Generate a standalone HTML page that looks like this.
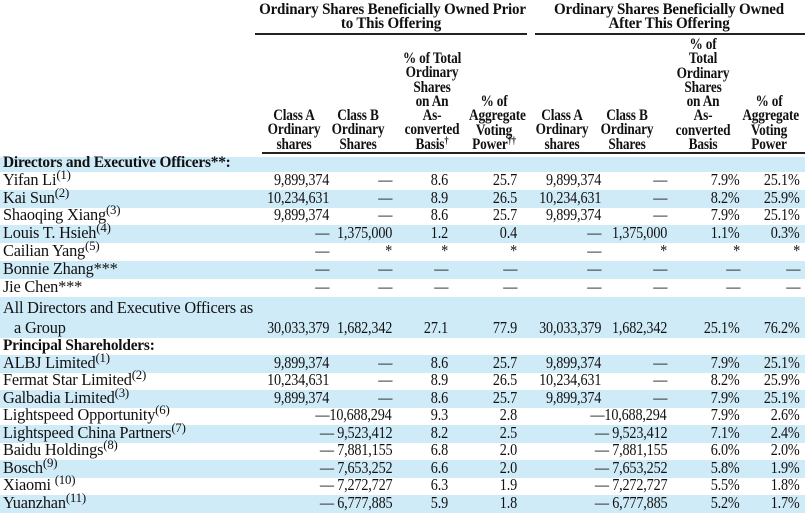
<!DOCTYPE html>
<html><head><meta charset="utf-8"><style>
body{margin:0;width:805px;height:520px;overflow:hidden;background:#fff;font-family:"Liberation Serif",serif;color:#111}
.h{position:absolute;font-weight:bold;font-size:15.5px;line-height:14.3px;text-align:center;letter-spacing:-0.2px;white-space:nowrap;transform:scaleX(.86);transform-origin:center top}
.r{position:absolute;left:0;width:805px;font-size:16.5px;letter-spacing:-0.2px}
.b{background:#d0ebf8}
.r span{position:absolute;white-space:nowrap;bottom:0px;transform:scaleX(.86);transform-origin:right bottom}
.r span.n{transform:scaleX(.99);transform-origin:left bottom}
.n{left:3px}
.c1{right:476px}.c2{right:413px}.c3{right:357px}.c4{right:288px}.c5{right:204px}.c6{right:138px}.c7{right:65px}.c8{right:5px}
sup{font-size:13px;vertical-align:0;position:relative;top:-6px}
.rule{position:absolute;height:2px;background:#222}
</style></head><body>
<div class="h" style="left:255px;width:272px;top:3px;transform:scaleX(.97)">Ordinary Shares Beneficially Owned Prior<br>to This Offering</div>
<div class="h" style="left:533px;width:272px;top:3px;transform:scaleX(.97)">Ordinary Shares Beneficially Owned<br>After This Offering</div>
<div class="rule" style="left:255px;width:272px;top:33px"></div>
<div class="rule" style="left:535px;width:270px;top:33px"></div>

<div class="h" style="left:262px;width:64px;top:109px">Class A<br>Ordinary<br>shares</div>
<div class="h" style="left:327px;width:62px;top:109px">Class B<br>Ordinary<br>Shares</div>
<div class="h" style="left:397px;width:70px;top:52px">% of Total<br>Ordinary<br>Shares<br>on An<br>As-<br>converted<br>Basis<sup style="font-size:10px;top:-5px">†</sup></div>
<div class="h" style="left:465px;width:58px;top:95px">% of<br>Aggregate<br>Voting<br>Power<sup style="font-size:10px;top:-5px">††</sup></div>
<div class="h" style="left:530px;width:64px;top:109px">Class A<br>Ordinary<br>shares</div>
<div class="h" style="left:596px;width:62px;top:109px">Class B<br>Ordinary<br>Shares</div>
<div class="h" style="left:670px;width:66px;top:38px">% of<br>Total<br>Ordinary<br>Shares<br>on An<br>As-<br>converted<br>Basis</div>
<div class="h" style="left:738px;width:62px;top:95px">% of<br>Aggregate<br>Voting<br>Power</div>
<div class="rule" style="left:262px;width:543px;top:152px"></div>

<div class="r b" style="top:157px;height:15px"><span class="n" style="font-weight:bold;font-size:15.5px">Directors and Executive Officers**:</span></div>
<div class="r" style="top:172px;height:18px"><span class="n">Yifan Li<sup>(1)</sup></span><span class="c1">9,899,374</span><span class="c2">—</span><span class="c3">8.6</span><span class="c4">25.7</span><span class="c5">9,899,374</span><span class="c6">—</span><span class="c7">7.9%</span><span class="c8">25.1%</span></div>
<div class="r b" style="top:190px;height:18px"><span class="n">Kai Sun<sup>(2)</sup></span><span class="c1">10,234,631</span><span class="c2">—</span><span class="c3">8.9</span><span class="c4">26.5</span><span class="c5">10,234,631</span><span class="c6">—</span><span class="c7">8.2%</span><span class="c8">25.9%</span></div>
<div class="r" style="top:208px;height:17px"><span class="n">Shaoqing Xiang<sup>(3)</sup></span><span class="c1">9,899,374</span><span class="c2">—</span><span class="c3">8.6</span><span class="c4">25.7</span><span class="c5">9,899,374</span><span class="c6">—</span><span class="c7">7.9%</span><span class="c8">25.1%</span></div>
<div class="r b" style="top:225px;height:18px"><span class="n">Louis T. Hsieh<sup>(4)</sup></span><span class="c1">—</span><span class="c2">1,375,000</span><span class="c3">1.2</span><span class="c4">0.4</span><span class="c5">—</span><span class="c6">1,375,000</span><span class="c7">1.1%</span><span class="c8">0.3%</span></div>
<div class="r" style="top:243px;height:18px"><span class="n">Cailian Yang<sup>(5)</sup></span><span class="c1">—</span><span class="c2">*</span><span class="c3">*</span><span class="c4">*</span><span class="c5">—</span><span class="c6">*</span><span class="c7">*</span><span class="c8">*</span></div>
<div class="r b" style="top:261px;height:18px"><span class="n">Bonnie Zhang***</span><span class="c1">—</span><span class="c2">—</span><span class="c3">—</span><span class="c4">—</span><span class="c5">—</span><span class="c6">—</span><span class="c7">—</span><span class="c8">—</span></div>
<div class="r" style="top:279px;height:18px"><span class="n">Jie Chen***</span><span class="c1">—</span><span class="c2">—</span><span class="c3">—</span><span class="c4">—</span><span class="c5">—</span><span class="c6">—</span><span class="c7">—</span><span class="c8">—</span></div>
<div class="r b" style="top:297px;height:41px"><span class="n" style="bottom:20px">All Directors and Executive Officers as</span><span class="n" style="left:14px">a Group</span><span class="c1">30,033,379</span><span class="c2">1,682,342</span><span class="c3">27.1</span><span class="c4">77.9</span><span class="c5">30,033,379</span><span class="c6">1,682,342</span><span class="c7">25.1%</span><span class="c8">76.2%</span></div>
<div class="r" style="top:338px;height:17px"><span class="n" style="font-weight:bold;font-size:15.5px">Principal Shareholders:</span></div>
<div class="r b" style="top:355px;height:18px"><span class="n">ALBJ Limited<sup>(1)</sup></span><span class="c1">9,899,374</span><span class="c2">—</span><span class="c3">8.6</span><span class="c4">25.7</span><span class="c5">9,899,374</span><span class="c6">—</span><span class="c7">7.9%</span><span class="c8">25.1%</span></div>
<div class="r" style="top:373px;height:17px"><span class="n">Fermat Star Limited<sup>(2)</sup></span><span class="c1">10,234,631</span><span class="c2">—</span><span class="c3">8.9</span><span class="c4">26.5</span><span class="c5">10,234,631</span><span class="c6">—</span><span class="c7">8.2%</span><span class="c8">25.9%</span></div>
<div class="r b" style="top:390px;height:18px"><span class="n">Galbadia Limited<sup>(3)</sup></span><span class="c1">9,899,374</span><span class="c2">—</span><span class="c3">8.6</span><span class="c4">25.7</span><span class="c5">9,899,374</span><span class="c6">—</span><span class="c7">7.9%</span><span class="c8">25.1%</span></div>
<div class="r" style="top:408px;height:17px"><span class="n">Lightspeed Opportunity<sup>(6)</sup></span><span class="c2">—10,688,294</span><span class="c3">9.3</span><span class="c4">2.8</span><span class="c6">—10,688,294</span><span class="c7">7.9%</span><span class="c8">2.6%</span></div>
<div class="r b" style="top:425px;height:18px"><span class="n">Lightspeed China Partners<sup>(7)</sup></span><span class="c2">— 9,523,412</span><span class="c3">8.2</span><span class="c4">2.5</span><span class="c6">— 9,523,412</span><span class="c7">7.1%</span><span class="c8">2.4%</span></div>
<div class="r" style="top:443px;height:17px"><span class="n">Baidu Holdings<sup>(8)</sup></span><span class="c2">— 7,881,155</span><span class="c3">6.8</span><span class="c4">2.0</span><span class="c6">— 7,881,155</span><span class="c7">6.0%</span><span class="c8">2.0%</span></div>
<div class="r b" style="top:460px;height:18px"><span class="n">Bosch<sup>(9)</sup></span><span class="c2">— 7,653,252</span><span class="c3">6.6</span><span class="c4">2.0</span><span class="c6">— 7,653,252</span><span class="c7">5.8%</span><span class="c8">1.9%</span></div>
<div class="r" style="top:478px;height:17px"><span class="n">Xiaomi <sup>(10)</sup></span><span class="c2">— 7,272,727</span><span class="c3">6.3</span><span class="c4">1.9</span><span class="c6">— 7,272,727</span><span class="c7">5.5%</span><span class="c8">1.8%</span></div>
<div class="r b" style="top:495px;height:18px"><span class="n">Yuanzhan<sup>(11)</sup></span><span class="c2">— 6,777,885</span><span class="c3">5.9</span><span class="c4">1.8</span><span class="c6">— 6,777,885</span><span class="c7">5.2%</span><span class="c8">1.7%</span></div>
</body></html>
